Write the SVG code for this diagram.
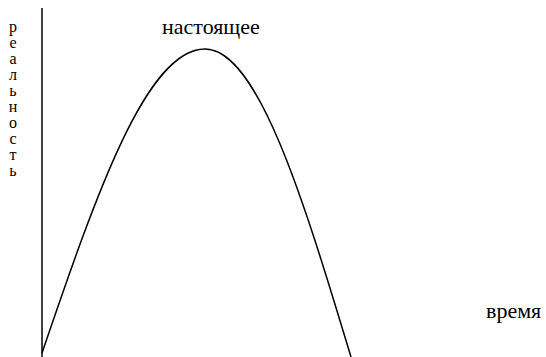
<svg xmlns="http://www.w3.org/2000/svg" width="546" height="357" viewBox="0 0 546 357">
<style>
text{font-family:"Liberation Serif","DejaVu Serif","Times New Roman",serif;font-size:22px;fill:#000}
.v{text-anchor:middle;font-size:16px}
.ln{fill:none;stroke:#000;stroke-width:1.5}
</style>
<rect width="546" height="357" fill="#fff"/>
<g id="connectors">
<line class="ln" x1="42" y1="8" x2="42" y2="357"/>
<path class="ln" d="M42,353 C95.2,197.3 146,49 205,49 C257.8,49 303.4,199.2 351,357"/>
</g>
<g id="y-label">
<text class="v" x="13" y="32">р</text>
<text class="v" x="13" y="48">е</text>
<text class="v" x="13" y="64">а</text>
<text class="v" x="13" y="80">л</text>
<text class="v" x="13" y="96">ь</text>
<text class="v" x="13" y="112">н</text>
<text class="v" x="13" y="128">о</text>
<text class="v" x="13" y="144">с</text>
<text class="v" x="13" y="160">т</text>
<text class="v" x="13" y="176">ь</text>
</g>
<g id="peak-label"><text x="162" y="33.5">настоящее</text></g>
<g id="x-label"><text x="486" y="318">время</text></g>
</svg>
